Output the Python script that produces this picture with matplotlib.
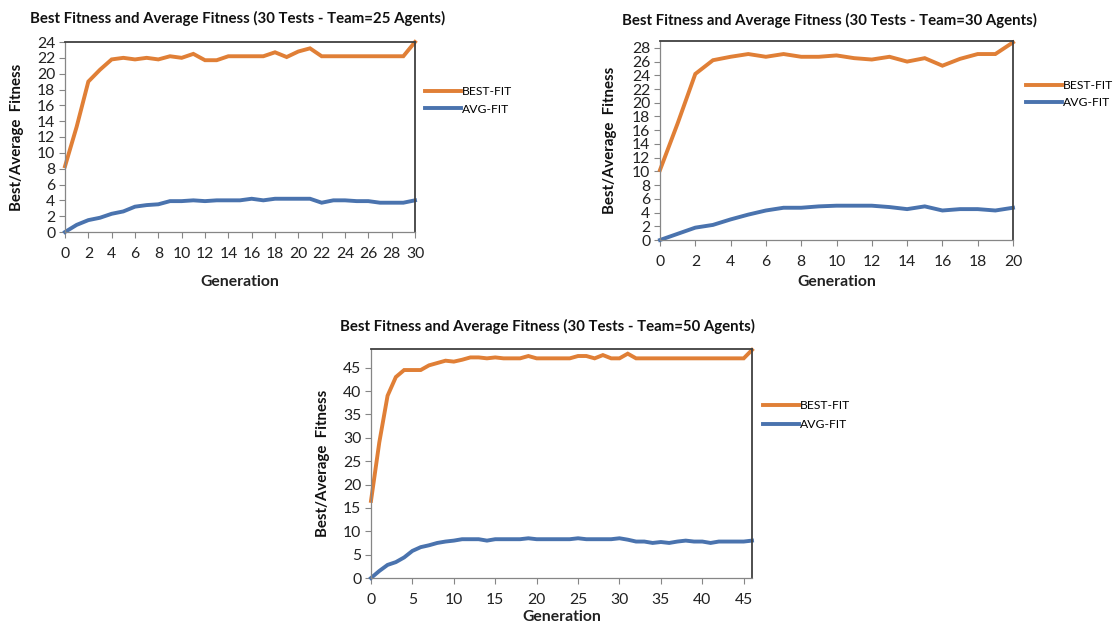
import matplotlib
matplotlib.use("Agg")
import matplotlib.pyplot as plt

plt.rcParams['font.family'] = ['Lato', 'DejaVu Sans']

# ---- Data ----
gen1 = list(range(0, 31))
best1 = [8.3, 13.3, 19.0, 20.5, 21.8, 22.0, 21.8, 22.0, 21.8, 22.2, 22.0, 22.5, 21.7, 21.7,
         22.2, 22.2, 22.2, 22.2, 22.7, 22.1, 22.8, 23.2, 22.2, 22.2, 22.2, 22.2, 22.2, 22.2,
         22.2, 22.2, 24.0]
avg1 = [0.0, 0.9, 1.5, 1.8, 2.3, 2.6, 3.2, 3.4, 3.5, 3.9, 3.9, 4.0, 3.9, 4.0, 4.0, 4.0, 4.2,
        4.0, 4.2, 4.2, 4.2, 4.2, 3.7, 4.0, 4.0, 3.9, 3.9, 3.7, 3.7, 3.7, 4.0]
yticks1 = list(range(0, 25, 2))
xticks1 = list(range(0, 31, 2))

gen2 = list(range(0, 21))
best2 = [10.2, 17.0, 24.2, 26.2, 26.7, 27.1, 26.7, 27.1, 26.7, 26.7, 26.9, 26.5, 26.3, 26.7,
         26.0, 26.5, 25.4, 26.4, 27.1, 27.1, 28.8]
avg2 = [0.0, 0.9, 1.8, 2.2, 3.0, 3.7, 4.3, 4.7, 4.7, 4.9, 5.0, 5.0, 5.0, 4.8, 4.5, 4.9, 4.3,
        4.5, 4.5, 4.3, 4.7]
yticks2 = list(range(0, 29, 2))
xticks2 = list(range(0, 21, 2))

gen3 = list(range(0, 47))
best3 = [16.5, 29.0, 39.0, 43.0, 44.5, 44.5, 44.5, 45.5, 46.0, 46.5, 46.3, 46.7, 47.2, 47.2,
         47.0, 47.2, 47.0, 47.0, 47.0, 47.5, 47.0, 47.0, 47.0, 47.0, 47.0, 47.5, 47.5, 47.0,
         47.7, 47.0, 47.0, 48.0, 47.0, 47.0, 47.0, 47.0, 47.0, 47.0, 47.0, 47.0, 47.0, 47.0,
         47.0, 47.0, 47.0, 47.0, 48.8]
avg3 = [0.0, 1.5, 2.8, 3.4, 4.4, 5.8, 6.6, 7.0, 7.5, 7.8, 8.0, 8.3, 8.3, 8.3, 8.0, 8.3, 8.3,
        8.3, 8.3, 8.5, 8.3, 8.3, 8.3, 8.3, 8.3, 8.5, 8.3, 8.3, 8.3, 8.3, 8.5, 8.2, 7.8, 7.8,
        7.5, 7.7, 7.5, 7.8, 8.0, 7.8, 7.8, 7.5, 7.8, 7.8, 7.8, 7.8, 8.0]
yticks3 = list(range(0, 46, 5))
xticks3 = list(range(0, 46, 5))

titles = ["Best Fitness and Average Fitness (30 Tests - Team=25 Agents)",
          "Best Fitness and Average Fitness (30 Tests - Team=30 Agents)",
          "Best Fitness and Average Fitness (30 Tests - Team=50 Agents)"]
series_names = ["BEST-FIT", "AVG-FIT"]

ORANGE = "#E07F36"
BLUE = "#4A73AE"

W, H = 1113, 623
fig = plt.figure(figsize=(W / 100, H / 100), dpi=100)


def px_axes(left, top, right, bottom):
    return fig.add_axes([left / W, 1 - bottom / H, (right - left) / W, (bottom - top) / H])


def style(ax, x, best, avg, xticks, yticks, xmax, ymax, title, title_xy, leg_xy, leg_sp,
          xlab_y, ylab_x):
    ax.plot(x, best, color=ORANGE, lw=2.8, solid_joinstyle='miter', label=series_names[0])
    ax.plot(x, avg, color=BLUE, lw=2.8, solid_joinstyle='miter', label=series_names[1])
    ax.set_xlim(0, xmax)
    ax.set_ylim(0, ymax)
    ax.set_xticks(xticks)
    ax.set_yticks(yticks)
    ax.tick_params(axis='both', direction='out', length=4, width=0.8, color='#868686',
                   labelsize=11.3, labelcolor='#222222', pad=3)
    ax.tick_params(axis='x', pad=7)
    for s in ['left', 'bottom']:
        ax.spines[s].set_color('#868686')
        ax.spines[s].set_linewidth(0.9)
    for s in ['top', 'right']:
        ax.spines[s].set_color('#404040')
        ax.spines[s].set_linewidth(1.3)
    for ln in ax.get_lines():
        ln.set_clip_on(False)
    fig.text(title_xy[0] / W, 1 - title_xy[1] / H, title, fontsize=10.8, fontweight='bold',
             ha='left', va='center', color='#111111')
    fig.text(ax.get_position().x0 + ax.get_position().width / 2, 1 - xlab_y / H, "Generation",
             fontsize=11.3, fontweight='bold', ha='center', va='center', color='#222222')
    fig.text(ylab_x / W, ax.get_position().y0 + ax.get_position().height / 2,
             "Best/Average  Fitness", fontsize=10.8, fontweight='bold', rotation=90,
             ha='center', va='center', color='#111111')
    ax.legend(loc='upper left', bbox_to_anchor=(leg_xy[0] / W, 1 - leg_xy[1] / H),
              bbox_transform=fig.transFigure, frameon=False, fontsize=8.7,
              handlelength=3.0, handletextpad=0.05, labelspacing=leg_sp, borderpad=0,
              borderaxespad=0)


ax1 = px_axes(65, 42, 415, 232)
style(ax1, gen1, best1, avg1, xticks1, yticks1, 30, 24, titles[0], (30, 18), (425, 86), 0.55,
      282, 17)

ax2 = px_axes(660, 41, 1013, 240)
style(ax2, gen2, best2, avg2, xticks2, yticks2, 20, 29, titles[1], (622, 20), (1026, 80), 0.5,
      282, 610)

ax3 = px_axes(371, 349, 752, 578)
style(ax3, gen3, best3, avg3, xticks3, yticks3, 46, 49, titles[2], (340, 326), (763, 400), 0.7,
      617, 323)

fig.savefig("out.png", dpi=100, facecolor='white')
